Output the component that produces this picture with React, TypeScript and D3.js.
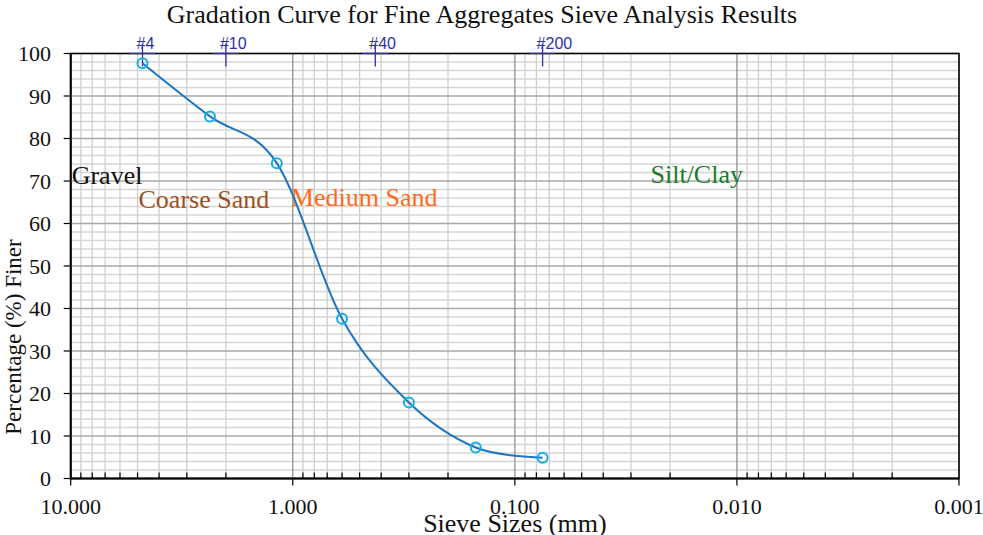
import React from 'react';
import * as d3 from 'd3';

// sieve analysis results
const sieveSizes = [4.75, 2.36, 1.18, 0.6, 0.3, 0.15, 0.075];
const percentFiner = [97.7, 85.2, 74.2, 37.6, 17.9, 7.3, 4.9];

// reference sieve markers along the top
const markerNames = ['#4', '#10', '#40', '#200'];
const markerSizes = [4.75, 2.0, 0.425, 0.075];

const xTickValues = [10, 1, 0.1, 0.01, 0.001];
const yTickValues = [0, 10, 20, 30, 40, 50, 60, 70, 80, 90, 100];

const zoneNames = ['Gravel', 'Coarse Sand', 'Medium Sand', 'Silt/Clay'];
const zoneSizes = [9.9, 4.95, 1.02, 0.0245];
const zoneLevels = [69.4, 63.7, 64.1, 69.6];
const zoneColors = ['#111111', '#a0501e', '#ff6a1a', '#1e7b2e'];

const W = 983;
const H = 535;
const margin = { top: 53.5, right: 24, bottom: 56.5, left: 70.7 };
const serif = '"Liberation Serif", "Times New Roman", serif';

const App = () => {
  const x = d3.scaleLog().domain([10, 0.001]).range([margin.left, W - margin.right]);
  const y = d3.scaleLinear().domain([0, 100]).range([H - margin.bottom, margin.top]);
  const [x0, x1] = x.range();
  const [y0, y1] = y.range();

  const minorX: number[] = [];
  for (let e = -3; e < 1; e++) {
    for (let k = 2; k <= 9; k++) minorX.push(k * Math.pow(10, e));
  }
  const minorY = d3.range(0, 101, 2).filter(v => v % 10 !== 0);

  const pts = sieveSizes.map((s, i) => [x(s), y(percentFiner[i])] as [number, number]);
  const line = d3.line().curve(d3.curveCardinal.tension(0));

  return (
    <svg width={W} height={H} style={{ position: 'absolute', left: 0, top: 0, background: '#fff' }}>
      <text x={482} y={23} textAnchor="middle" fontFamily={serif} fontSize={26} fill="#111">
        Gradation Curve for Fine Aggregates Sieve Analysis Results
      </text>

      {/* grid */}
      {minorY.map(v => (
        <line key={'my' + v} x1={x0} x2={x1} y1={y(v)} y2={y(v)} stroke="#d6d6d6" strokeWidth={1.3} />
      ))}
      {minorX.map(v => (
        <line key={'mx' + v} x1={x(v)} x2={x(v)} y1={y0} y2={y1} stroke="#d0d0d0" strokeWidth={1.3} />
      ))}
      {yTickValues.map(v => (
        <line key={'gy' + v} x1={x0} x2={x1} y1={y(v)} y2={y(v)} stroke="#a8a8a8" strokeWidth={1.3} />
      ))}
      {xTickValues.map(v => (
        <line key={'gx' + v} x1={x(v)} x2={x(v)} y1={y0} y2={y1} stroke="#909090" strokeWidth={1.3} />
      ))}

      {/* frame */}
      <rect x={x0} y={y1} width={x1 - x0} height={y0 - y1} fill="none" stroke="#000" strokeWidth={1.5} />
      <line x1={x0} x2={x0} y1={y1} y2={y0 + 1} stroke="#000" strokeWidth={2} />
      <line x1={x0} x2={x1} y1={y0} y2={y0} stroke="#000" strokeWidth={2} />

      {/* axis ticks */}
      {minorX.map(v => (
        <line key={'tx' + v} x1={x(v)} x2={x(v)} y1={y0} y2={y0 - 6} stroke="#000" strokeWidth={1.2} />
      ))}
      {xTickValues.map(v => (
        <g key={'lx' + v}>
          <line x1={x(v)} x2={x(v)} y1={y0} y2={y0 + 7} stroke="#000" strokeWidth={1.2} />
          <text x={x(v)} y={514} textAnchor="middle" fontFamily={serif} fontSize={22} fill="#111">
            {d3.format('.3f')(v)}
          </text>
        </g>
      ))}
      {yTickValues.map(v => (
        <g key={'ly' + v}>
          <line x1={x0 - 7} x2={x0} y1={y(v)} y2={y(v)} stroke="#000" strokeWidth={1.2} />
          <text x={51} y={y(v)} dy="0.35em" textAnchor="end" fontFamily={serif} fontSize={22} fill="#111">
            {v}
          </text>
        </g>
      ))}

      <text x={(x0 + x1) / 2} y={532} textAnchor="middle" fontFamily={serif} fontSize={26} fill="#111">
        Sieve Sizes (mm)
      </text>
      <text transform="translate(21,337) rotate(-90)" textAnchor="middle" fontFamily={serif} fontSize={23} fill="#111">
        Percentage (%) Finer
      </text>

      {/* zone labels */}
      {zoneNames.map((n, i) => (
        <text key={n} x={x(zoneSizes[i])} y={y(zoneLevels[i])} fontFamily={serif} fontSize={26} fill={zoneColors[i]}>
          {n}
        </text>
      ))}

      {/* sieve markers */}
      {markerNames.map((n, i) => (
        <g key={n} stroke="#3030a8" strokeWidth={1.3}>
          <line x1={x(markerSizes[i]) - 13} x2={x(markerSizes[i]) + 13} y1={y1} y2={y1} />
          <line x1={x(markerSizes[i])} x2={x(markerSizes[i])} y1={y1 - 10} y2={y1 + 13} />
          <text x={x(markerSizes[i]) - 6} y={49} stroke="none" fill="#3030a8" fontFamily='"Liberation Sans", Arial, sans-serif' fontSize={16}>
            {n}
          </text>
        </g>
      ))}

      {/* gradation curve */}
      <path d={line(pts) || ''} fill="none" stroke="#1b75c4" strokeWidth={2} />
      {pts.map((p, i) => (
        <circle key={i} cx={p[0]} cy={p[1]} r={5} fill="none" stroke="#12aee8" strokeWidth={2} />
      ))}
    </svg>
  );
};

export default App;
